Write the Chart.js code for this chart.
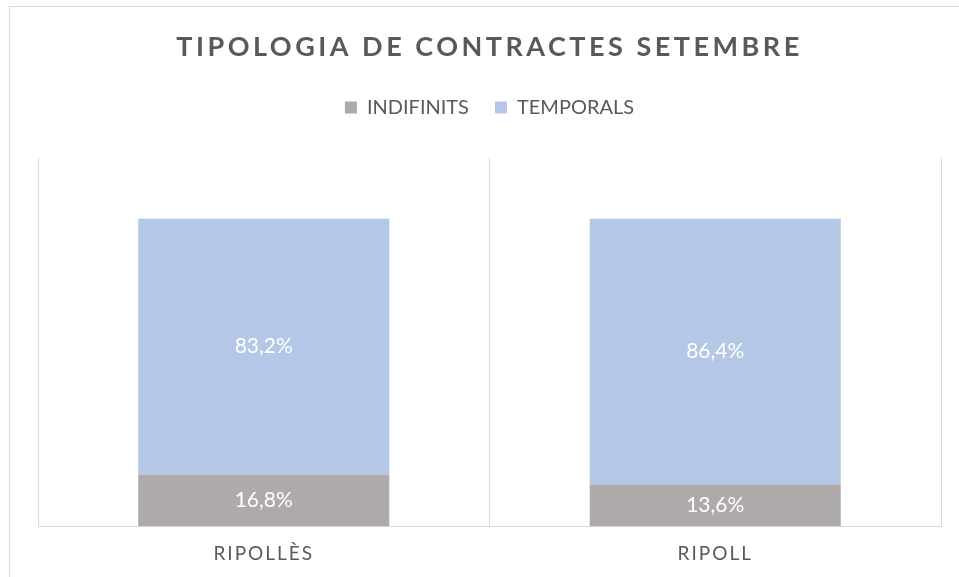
<!DOCTYPE html>
<html>
<head>
    <meta charset="utf-8">
    <title>Tipologia de contractes setembre</title>
    <script src="https://cdn.jsdelivr.net/npm/chart.js"></script>
    <style>
        html, body { margin: 0; padding: 0; background: #ffffff; }
        #wrap { width: 959px; height: 577px; }
    </style>
</head>
<body>
    <div id="wrap">
        <canvas id="myChart" width="959" height="577"></canvas>
    </div>
    <script>
        const categories = ['RIPOLLÈS', 'RIPOLL'];
        const indefinits = [16.8, 13.6];
        const temporals = [83.2, 86.4];
        const seriesNames = ['INDIFINITS', 'TEMPORALS'];

        const textGrey = '#595959';
        const lineGrey = '#d9d9d9';

        // letter spacing for the title and the category labels (Excel style)
        const spacingPlugin = {
            id: 'spacing',
            afterInit(chart) {
                const legend = chart.legend;
                const fit = legend.fit;
                legend.fit = function () {
                    fit.call(this);
                    this.height += 30;
                };
            },
            beforeDraw(chart) {
                const ctx = chart.ctx;
                // outer frame
                ctx.save();
                ctx.strokeStyle = lineGrey;
                ctx.lineWidth = 1;
                ctx.strokeRect(9.5, 6.5, 1000, 1000);
                ctx.restore();

                if (chart.$spaced) return;
                chart.$spaced = true;
                const title = chart.titleBlock;
                const drawTitle = title.draw;
                title.draw = function (area) {
                    ctx.save();
                    ctx.letterSpacing = '3.5px';
                    drawTitle.call(this, area);
                    ctx.restore();
                };
                const xs = chart.scales.x;
                const drawLabels = xs.drawLabels;
                xs.drawLabels = function (area) {
                    ctx.save();
                    ctx.letterSpacing = '2px';
                    drawLabels.call(this, area);
                    ctx.restore();
                };
            }
        };

        // white value labels in the middle of each segment
        const valueLabels = {
            id: 'valueLabels',
            afterDatasetsDraw(chart) {
                const ctx = chart.ctx;
                ctx.save();
                ctx.fillStyle = '#ffffff';
                ctx.font = '21px Lato';
                ctx.textAlign = 'center';
                ctx.textBaseline = 'middle';
                chart.data.datasets.forEach((ds, i) => {
                    chart.getDatasetMeta(i).data.forEach((bar, j) => {
                        const txt = ds.data[j].toFixed(1).replace('.', ',') + '%';
                        ctx.fillText(txt, bar.x, (bar.y + bar.base) / 2);
                    });
                });
                ctx.restore();
            }
        };

        Chart.defaults.font.family = 'Lato';
        Chart.defaults.color = textGrey;

        const ctx = document.getElementById('myChart').getContext('2d');
        const myChart = new Chart(ctx, {
            type: 'bar',
            data: {
                labels: categories,
                datasets: [{
                    label: seriesNames[0],
                    data: indefinits,
                    backgroundColor: '#aeaaaa'
                }, {
                    label: seriesNames[1],
                    data: temporals,
                    backgroundColor: '#b4c7e7'
                }]
            },
            plugins: [spacingPlugin, valueLabels],
            options: {
                responsive: false,
                animation: false,
                layout: {
                    padding: { left: 38, right: 18, top: 0, bottom: -4 }
                },
                datasets: {
                    bar: {
                        categoryPercentage: 1,
                        barPercentage: 0.556
                    }
                },
                plugins: {
                    title: {
                        display: true,
                        text: 'TIPOLOGIA DE CONTRACTES SETEMBRE',
                        color: textGrey,
                        font: { size: 27, weight: 'bold' },
                        padding: { top: 31, bottom: 8 }
                    },
                    legend: {
                        position: 'top',
                        labels: {
                            color: textGrey,
                            font: { size: 20 },
                            boxWidth: 12,
                            boxHeight: 12,
                            padding: 26
                        }
                    },
                    tooltip: { enabled: false }
                },
                scales: {
                    x: {
                        stacked: true,
                        grid: {
                            offset: true,
                            color: lineGrey,
                            drawTicks: false
                        },
                        border: { color: lineGrey },
                        ticks: {
                            color: textGrey,
                            font: { size: 19 },
                            padding: 16
                        }
                    },
                    y: {
                        stacked: true,
                        display: false,
                        min: 0,
                        max: 120
                    }
                }
            }
        });
    </script>
</body>
</html>
